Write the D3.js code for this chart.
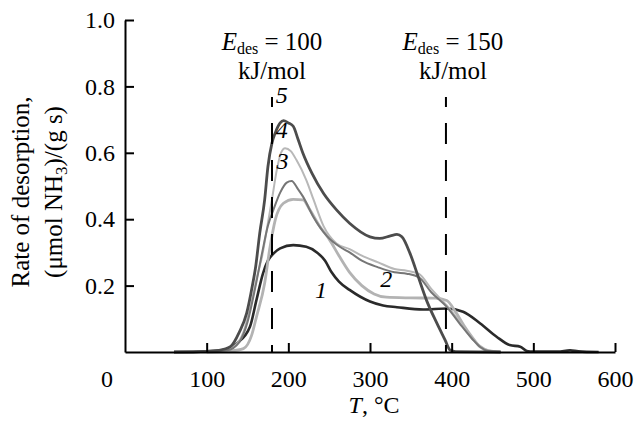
<!DOCTYPE html>
<html lang="en">
<head>
<meta charset="utf-8">
<title>Rate of desorption</title>
<script src="https://cdn.jsdelivr.net/npm/d3@7"></script>
<style>
  body { margin: 0; background: #fff; }
  svg text { font-family: "Liberation Serif", "Times New Roman", serif; fill: #000; }
</style>
</head>
<body>
<div id="chart"></div>
<script>
// temperature (°C) and rate
var curve1 = [[60,0],[100,0.002],[120,0.006],[137,0.026],[153,0.076],[161,0.157],[169,0.237],[175,0.275],[182,0.297],[190,0.312],[206,0.322],[222,0.317],[235,0.3],[245,0.275],[253,0.24],[262,0.212],[275,0.187],[300,0.152],[316,0.14],[333,0.135],[365,0.128],[394,0.131],[414,0.121],[435,0.086],[455,0.046],[471,0.021],[484,0.016],[492,0.003],[500,0.001],[530,0.001],[545,0.005],[555,0.002],[580,0]];
var curve2 = [[100,0],[130,0.003],[145,0.01],[155,0.05],[161,0.106],[171,0.207],[177,0.307],[184,0.398],[194,0.448],[206,0.46],[218,0.458],[226,0.43],[238,0.38],[250,0.34],[262,0.29],[275,0.24],[290,0.2],[305,0.175],[320,0.165],[350,0.163],[380,0.162],[394,0.155],[405,0.12],[415,0.08],[425,0.045],[435,0.015],[445,0.003],[460,0]];
var curve3 = [[100,0],[125,0.005],[140,0.03],[150,0.09],[160,0.2],[168,0.3],[175,0.38],[182,0.43],[190,0.48],[198,0.51],[204,0.515],[212,0.49],[218,0.468],[230,0.41],[247,0.35],[263,0.317],[275,0.3],[290,0.275],[310,0.255],[330,0.24],[345,0.236],[360,0.225],[375,0.18],[394,0.136],[410,0.085],[425,0.04],[435,0.015],[445,0.003],[460,0]];
var curve4 = [[100,0],[120,0.004],[135,0.02],[145,0.06],[155,0.15],[162,0.23],[168,0.29],[173,0.36],[180,0.46],[186,0.55],[191,0.6],[196,0.614],[203,0.605],[210,0.578],[222,0.518],[231,0.458],[243,0.38],[259,0.327],[275,0.31],[290,0.29],[310,0.27],[330,0.25],[345,0.245],[360,0.235],[375,0.19],[394,0.14],[410,0.09],[425,0.04],[440,0.01],[455,0]];
var curve5 = [[60,0],[100,0.002],[115,0.005],[129,0.016],[140,0.06],[149,0.117],[156,0.2],[160,0.257],[165,0.358],[171,0.458],[175,0.558],[180,0.63],[184,0.66],[190,0.69],[194,0.697],[200,0.69],[206,0.68],[212,0.64],[218,0.598],[229,0.538],[243,0.478],[259,0.428],[275,0.388],[300,0.347],[312,0.342],[325,0.35],[333,0.354],[339,0.347],[349,0.297],[359,0.227],[369,0.157],[382,0.086],[392,0.036],[398,0.006],[405,0.001],[460,0]];

var xTicks = [100, 200, 300, 400, 500, 600];
var yTicks = [0.2, 0.4, 0.6, 0.8, 1.0];
var desLines = [180, 393];      // E_des = 100 and 150 kJ/mol
var desLabels = ["100", "150"];

var width = 637, height = 422;
var margin = {left: 125, right: 22, top: 20, bottom: 70};
var serif = "'Liberation Serif', 'Times New Roman', serif";

var svg = d3.select("#chart").append("svg")
    .attr("width", width)
    .attr("height", height);

var x = d3.scaleLinear().domain([0, 600]).range([margin.left, width - margin.right]);
var y = d3.scaleLinear().domain([0, 1]).range([height - margin.bottom, margin.top]);

var series = [
  {data: curve1, color: "#2a2a2a", w: 2.6},
  {data: curve2, color: "#b3b3b3", w: 2.8},
  {data: curve4, color: "#b8b8b8", w: 2.0},
  {data: curve3, color: "#767676", w: 2.0},
  {data: curve5, color: "#4c4c4c", w: 2.8}
];

var line = d3.line()
    .x(function(d) { return x(d[0]); })
    .y(function(d) { return y(d[1]); })
    .curve(d3.curveMonotoneX);

svg.append("g").selectAll("path")
    .data(series)
  .enter().append("path")
    .attr("d", function(d) { return line(d.data); })
    .attr("fill", "none")
    .attr("stroke", function(d) { return d.color; })
    .attr("stroke-width", function(d) { return d.w; })
    .attr("stroke-linejoin", "round");

// dashed E_des markers
svg.append("g").selectAll("line")
    .data(desLines)
  .enter().append("line")
    .attr("x1", function(d) { return x(d); })
    .attr("x2", function(d) { return x(d); })
    .attr("y1", y(0.768))
    .attr("y2", y(0))
    .attr("stroke", "#000")
    .attr("stroke-width", 2)
    .attr("stroke-dasharray", "21,16")
    .attr("stroke-dashoffset", 11);

// axes
svg.append("g").attr("class", "axis")
    .attr("transform", "translate(0," + y(0) + ")")
    .call(d3.axisBottom(x).tickValues(xTicks).tickSize(-9).tickSizeOuter(0).tickPadding(18).tickFormat(d3.format("d")));
svg.append("g").attr("class", "axis")
    .attr("transform", "translate(" + x(0) + ",0)")
    .call(d3.axisLeft(y).tickValues(yTicks).tickSize(-9).tickSizeOuter(0).tickPadding(10).tickFormat(d3.format(".1f")));

svg.selectAll(".axis path").attr("stroke", "#000").attr("stroke-width", 2);
svg.selectAll(".axis line").attr("stroke", "#000").attr("stroke-width", 2);
svg.selectAll(".axis text").attr("fill", "#000").style("font-family", serif).style("font-size", "24px");

svg.append("text")
    .attr("x", x(0) - 18).attr("y", y(0) + 35)
    .attr("text-anchor", "middle")
    .style("font-size", "24px")
    .text("0");

// axis titles
var xt = svg.append("text")
    .attr("x", x(305)).attr("y", 413)
    .attr("text-anchor", "middle")
    .style("font-size", "24px");
xt.append("tspan").attr("font-style", "italic").text("T");
xt.append("tspan").text(", °C");

var yt = svg.append("g").attr("transform", "translate(29,192) rotate(-90)");
yt.append("text").attr("text-anchor", "middle").style("font-size", "25px")
    .text("Rate of desorption,");
var yt2 = yt.append("text").attr("text-anchor", "middle").style("font-size", "25px")
    .attr("y", 33);
yt2.append("tspan").text("(μmol NH");
yt2.append("tspan").style("font-size", "17px").attr("dy", 5).text("3");
yt2.append("tspan").attr("dy", -5).text(")/(g s)");

// E_des labels
desLabels.forEach(function(v, i) {
  var cx = x(desLines[i]) + (i === 0 ? 0 : 7);
  var t = svg.append("text").attr("x", cx).attr("y", 50)
      .attr("text-anchor", "middle").style("font-size", "25px");
  t.append("tspan").attr("font-style", "italic").text("E");
  t.append("tspan").style("font-size", "16px").attr("dy", 4).text("des");
  t.append("tspan").attr("dy", -4).text(" = " + v);
  svg.append("text").attr("x", cx).attr("y", 79)
      .attr("text-anchor", "middle").style("font-size", "25px")
      .text("kJ/mol");
});

// curve numbers
var curveLabels = [
  {n: "5", t: 192, v: 0.75},
  {n: "4", t: 192, v: 0.645},
  {n: "3", t: 193, v: 0.55},
  {n: "1", t: 240, v: 0.163},
  {n: "2", t: 320, v: 0.196}
];
svg.append("g").selectAll("text")
    .data(curveLabels)
  .enter().append("text")
    .attr("x", function(d) { return x(d.t); })
    .attr("y", function(d) { return y(d.v); })
    .attr("text-anchor", "middle")
    .style("font-size", "24px")
    .attr("font-style", "italic")
    .text(function(d) { return d.n; });
</script>
</body>
</html>
